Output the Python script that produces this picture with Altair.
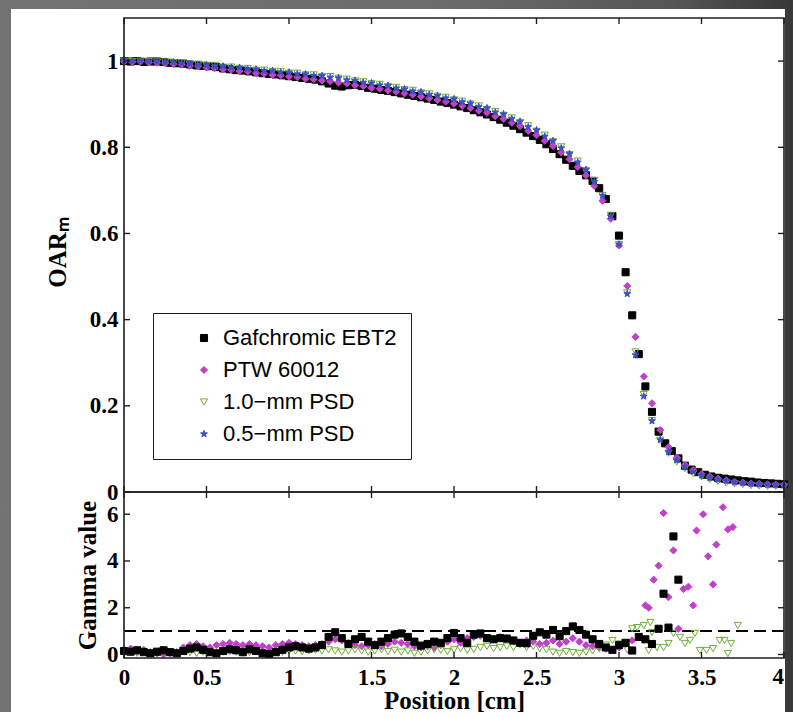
import altair as alt
import pandas as pd

# ---------------- data ----------------
SERIES = ["Gafchromic EBT2", "PTW 60012", "1.0\u2212mm PSD", "0.5\u2212mm PSD"]
STROKES = ["#000000", "#c13fc9", "#6fae37", "#3b4fc8"]
FILLS = ["#000000", "#c13fc9", "transparent", "#3b4fc8"]
STAR = ("M0,-1L0.235,-0.324L0.951,-0.309L0.38,0.124L0.588,0.809L0,0.4"
        "L-0.588,0.809L-0.38,0.124L-0.951,-0.309L-0.235,-0.324Z")
SHAPES = ["square", "diamond", "triangle-down", STAR]
SIZES = [50, 52, 46, 80]

X_TICKS = [0, 0.5, 1, 1.5, 2, 2.5, 3, 3.5, 4]
X_LAST = [4]
OAR_TICKS = [0, 0.2, 0.4, 0.6, 0.8, 1.0]
GAMMA_TICKS = [0, 2, 4, 6]
GAMMA_TOL = [1.0]

# positions with 0.05 cm spacing
POS_A = [0.00, 0.05, 0.10, 0.15, 0.20, 0.25, 0.30, 0.35, 0.40, 0.45,
         0.50, 0.55, 0.60, 0.65, 0.70, 0.75, 0.80, 0.85, 0.90, 0.95,
         1.00, 1.05, 1.10, 1.15, 1.20, 1.25, 1.30, 1.35, 1.40, 1.45,
         1.50, 1.55, 1.60, 1.65, 1.70, 1.75, 1.80, 1.85, 1.90, 1.95,
         2.00, 2.05, 2.10, 2.15, 2.20, 2.25, 2.30, 2.35, 2.40, 2.45,
         2.50, 2.55, 2.60, 2.65, 2.70, 2.75, 2.80, 2.85, 2.90, 2.95,
         3.00, 3.05, 3.10, 3.15, 3.20, 3.25, 3.30, 3.35, 3.40, 3.45,
         3.50, 3.55, 3.60, 3.65, 3.70, 3.75, 3.80, 3.85, 3.90, 3.95,
         4.00]

# positions with 0.04 cm spacing
POS_B = [0.00, 0.04, 0.08, 0.12, 0.16, 0.20, 0.24, 0.28, 0.32, 0.36, 0.40, 0.44, 0.48,
         0.52, 0.56, 0.60, 0.64, 0.68, 0.72, 0.76, 0.80, 0.84, 0.88, 0.92, 0.96,
         1.00, 1.04, 1.08, 1.12, 1.16, 1.20, 1.24, 1.28, 1.32, 1.36, 1.40, 1.44, 1.48,
         1.52, 1.56, 1.60, 1.64, 1.68, 1.72, 1.76, 1.80, 1.84, 1.88, 1.92, 1.96,
         2.00, 2.04, 2.08, 2.12, 2.16, 2.20, 2.24, 2.28, 2.32, 2.36, 2.40, 2.44, 2.48,
         2.52, 2.56, 2.60, 2.64, 2.68, 2.72, 2.76, 2.80, 2.84, 2.88, 2.92, 2.96,
         3.00, 3.04, 3.08, 3.12, 3.16, 3.20, 3.24, 3.28, 3.32, 3.36, 3.40, 3.44, 3.48,
         3.52, 3.56, 3.60, 3.64, 3.68, 3.72, 3.76, 3.80, 3.84, 3.88, 3.92, 3.96,
         4.00]

OAR_EBT2 = [1.000, 0.999, 1.000, 0.998, 0.999, 0.999, 0.998, 0.996, 0.995, 0.994, 0.992, 0.990, 0.989,
            0.988, 0.986, 0.983, 0.981, 0.979, 0.978, 0.976, 0.974, 0.972, 0.970, 0.969, 0.967,
            0.965, 0.963, 0.961, 0.959, 0.957, 0.953, 0.948, 0.943, 0.941, 0.944, 0.945, 0.942, 0.938,
            0.936, 0.933, 0.931, 0.928, 0.925, 0.922, 0.919, 0.916, 0.913, 0.910, 0.906, 0.903,
            0.899, 0.895, 0.891, 0.886, 0.881, 0.876, 0.870, 0.864, 0.857, 0.850, 0.842, 0.834, 0.826,
            0.817, 0.807, 0.796, 0.784, 0.771, 0.757, 0.745, 0.735, 0.722, 0.705, 0.680, 0.640,
            0.595, 0.510, 0.410, 0.320, 0.245, 0.186, 0.140, 0.113, 0.095, 0.078, 0.061, 0.052, 0.046,
            0.040, 0.036, 0.033, 0.031, 0.029, 0.027, 0.025, 0.024, 0.022, 0.021, 0.020, 0.019,
            0.018]

OAR_PTW = [0.999, 0.998, 0.999, 0.997, 0.996, 0.995, 0.993, 0.992, 0.989, 0.988,
           0.985, 0.984, 0.981, 0.980, 0.977, 0.976, 0.972, 0.971, 0.968, 0.967,
           0.964, 0.963, 0.959, 0.958, 0.955, 0.953, 0.950, 0.948, 0.944, 0.942,
           0.938, 0.936, 0.932, 0.929, 0.925, 0.922, 0.918, 0.914, 0.910, 0.906,
           0.901, 0.896, 0.891, 0.885, 0.880, 0.872, 0.866, 0.857, 0.849, 0.838,
           0.828, 0.815, 0.803, 0.788, 0.772, 0.754, 0.735, 0.710, 0.676, 0.634,
           0.572, 0.478, 0.360, 0.268, 0.206, 0.144, 0.104, 0.080, 0.063, 0.051,
           0.042, 0.036, 0.031, 0.027, 0.024, 0.022, 0.020, 0.019, 0.018, 0.017,
           0.017]

OAR_PSD10 = [1.000, 0.999, 1.000, 0.999, 0.998, 0.998, 0.996, 0.996, 0.993, 0.993,
             0.990, 0.990, 0.986, 0.986, 0.983, 0.983, 0.979, 0.979, 0.976, 0.976,
             0.972, 0.972, 0.968, 0.968, 0.964, 0.964, 0.960, 0.958, 0.954, 0.952,
             0.948, 0.946, 0.941, 0.939, 0.934, 0.932, 0.926, 0.924, 0.918, 0.916,
             0.910, 0.907, 0.900, 0.896, 0.888, 0.883, 0.874, 0.868, 0.857, 0.850,
             0.837, 0.828, 0.813, 0.801, 0.783, 0.768, 0.746, 0.723, 0.688, 0.642,
             0.574, 0.462, 0.325, 0.226, 0.166, 0.120, 0.090, 0.070, 0.054, 0.043,
             0.035, 0.029, 0.025, 0.021, 0.019, 0.017, 0.015, 0.014, 0.013, 0.013,
             0.012]

OAR_PSD05 = [1.002, 1.000, 1.001, 0.999, 0.999, 0.997, 0.997, 0.994, 0.994, 0.991,
             0.991, 0.988, 0.988, 0.985, 0.985, 0.981, 0.981, 0.977, 0.978, 0.974,
             0.974, 0.970, 0.970, 0.966, 0.966, 0.962, 0.961, 0.956, 0.955, 0.950,
             0.949, 0.944, 0.943, 0.937, 0.935, 0.930, 0.928, 0.922, 0.920, 0.914,
             0.912, 0.905, 0.902, 0.894, 0.891, 0.881, 0.877, 0.866, 0.860, 0.847,
             0.840, 0.825, 0.815, 0.798, 0.785, 0.765, 0.748, 0.720, 0.688, 0.640,
             0.575, 0.460, 0.318, 0.222, 0.165, 0.121, 0.093, 0.074, 0.058, 0.047,
             0.039, 0.033, 0.029, 0.026, 0.023, 0.021, 0.019, 0.018, 0.017, 0.016,
             0.016]

# gamma values
GAM_EBT2_POS = POS_B[:81] + [3.24, 3.27, 3.30, 3.33, 3.36]
GAM_EBT2 = [0.15, 0.12, 0.18, 0.10, 0.05, 0.12, 0.18, 0.10, 0.05, 0.15, 0.25, 0.30, 0.20,
            0.10, 0.05, 0.15, 0.22, 0.18, 0.10, 0.22, 0.15, 0.05, 0.02, 0.10, 0.20,
            0.30, 0.35, 0.30, 0.25, 0.30, 0.40, 0.75, 0.95, 0.70, 0.45, 0.65, 0.75, 0.55,
            0.40, 0.55, 0.70, 0.85, 0.90, 0.75, 0.55, 0.38, 0.45, 0.55, 0.50, 0.70,
            0.92, 0.70, 0.50, 0.85, 0.90, 0.70, 0.65, 0.70, 0.68, 0.60, 0.50, 0.48, 0.80,
            0.95, 0.85, 1.05, 0.78, 1.00, 1.20, 1.05, 0.85, 0.65, 0.45, 0.30, 0.20,
            0.40, 0.50, 0.17, 0.75, 0.65, 0.45,
            1.10, 2.60, 1.15, 5.05, 3.20]

GAM_PTW_POS = POS_B[:78] + [3.16, 3.18, 3.21, 3.24, 3.27, 3.30, 3.33, 3.36, 3.39, 3.42,
                            3.45, 3.47, 3.51, 3.54, 3.57, 3.59, 3.63, 3.66, 3.69]
GAM_PTW = [0.20, 0.25, 0.15, 0.20, 0.10, 0.05, 0.00, 0.05, 0.10, 0.30, 0.40, 0.45, 0.35,
           0.30, 0.40, 0.45, 0.50, 0.45, 0.40, 0.45, 0.40, 0.35, 0.30, 0.40, 0.45,
           0.50, 0.45, 0.40, 0.35, 0.40, 0.45, 0.55, 0.65, 0.60, 0.50, 0.40, 0.35, 0.40,
           0.45, 0.35, 0.45, 0.55, 0.50, 0.45, 0.35, 0.30, 0.35, 0.30, 0.40, 0.55,
           0.65, 0.50, 0.70, 0.75, 0.80, 0.70, 0.65, 0.75, 0.70, 0.55, 0.50, 0.60, 0.55,
           0.45, 0.50, 0.60, 0.45, 0.55, 0.70, 0.55, 0.40, 0.35, 0.30, 0.25, 0.20,
           0.30, 0.45, 0.60,
           2.10, 2.00, 3.20, 3.80, 6.05, 2.45, 4.45, 1.10, 2.80, 2.90,
           2.10, 5.30, 6.00, 4.20, 3.00, 4.70, 6.30, 5.35, 5.45]

GAM_PSD10_POS = POS_B[:76] + [3.05, 3.08, 3.11, 3.15, 3.18, 3.19, 3.20, 3.23, 3.27, 3.30,
                              3.33, 3.37, 3.40, 3.43, 3.46, 3.49, 3.53, 3.57, 3.61, 3.64,
                              3.66, 3.68, 3.72]
GAM_PSD10 = [0.05, 0.08, 0.05, 0.10, 0.08, 0.05, 0.10, 0.05, 0.08, 0.12, 0.08, 0.05, 0.10,
             0.08, 0.05, 0.10, 0.12, 0.10, 0.05, 0.08, 0.12, 0.05, 0.03, 0.08, 0.10,
             0.15, 0.15, 0.12, 0.15, 0.18, 0.15, 0.20, 0.15, 0.10, 0.15, 0.20, 0.15, 0.10,
             0.15, 0.20, 0.12, 0.18, 0.10, 0.15, 0.05, 0.10, 0.15, 0.20, 0.18, 0.12,
             0.20, 0.25, 0.18, 0.22, 0.30, 0.35, 0.25, 0.30, 0.35, 0.30, 0.40, 0.30, 0.35,
             0.25, 0.20, 0.10, 0.05, 0.12, 0.08, 0.05, 0.10, 0.15, 0.25, 0.40, 0.60,
             0.45,
             0.20, 1.10, 1.15, 1.24, 0.17, 1.37, 0.94, 0.30, 0.30, 0.47,
             0.90, 0.73, 0.47, 0.60, 0.90, 0.17, 0.17, 0.25, 0.60, 0.60,
             0.04, 0.47, 1.24]


def rows(name, xs, ys):
    return [{"series": name, "x": a, "y": b} for a, b in zip(xs, ys)]


# draw order: top panel black, green, magenta, blue; bottom magenta, green, black
df_top = pd.DataFrame(rows(SERIES[0], POS_B, OAR_EBT2) + rows(SERIES[2], POS_A, OAR_PSD10)
                      + rows(SERIES[1], POS_A, OAR_PTW) + rows(SERIES[3], POS_A, OAR_PSD05))
df_bot = pd.DataFrame(rows(SERIES[1], GAM_PTW_POS, GAM_PTW) + rows(SERIES[2], GAM_PSD10_POS, GAM_PSD10)
                      + rows(SERIES[0], GAM_EBT2_POS, GAM_EBT2))

# ---------------- style ----------------
W, H_TOP, H_BOT = 660, 474, 166
TICK = 6
FRAME = "#1e1e1e"
SERIF = "Liberation Serif"

LEG = alt.Legend(title=None, orient="none", legendX=29, legendY=295,
                 fillColor="white", strokeColor=FRAME, padding=14,
                 labelFont="Liberation Sans", labelFontSize=22, labelColor="black",
                 labelLimit=400, labelOffset=8, symbolOffset=26,
                 symbolStrokeWidth=1, rowPadding=10)

shape_enc = alt.Shape("series:N", scale=alt.Scale(domain=SERIES, range=SHAPES), legend=LEG)
stroke_enc = alt.Stroke("series:N", scale=alt.Scale(domain=SERIES, range=STROKES), legend=LEG)
fill_enc = alt.Fill("series:N", scale=alt.Scale(domain=SERIES, range=FILLS), legend=LEG)
size_enc = alt.Size("series:N", scale=alt.Scale(domain=SERIES, range=SIZES), legend=LEG)

x_scale = alt.Scale(domain=[0, 4], nice=False, zero=False)
x_top = alt.X("x:Q", scale=x_scale, axis=None)
x_bot = alt.X("x:Q", scale=x_scale,
              axis=alt.Axis(values=X_TICKS[:-1], format="~g", title="Position [cm]",
                            labelPadding=8, labelFlush=False, zindex=1,
                            titleBaseline="alphabetic", titleY=50, titleX=W / 2,
                            titleAlign="center"))
y_top = alt.Y("y:Q", scale=alt.Scale(domain=[0, 1.1], nice=False, zero=False),
              axis=alt.Axis(values=OAR_TICKS, format="~g", title="OAR\u2098", labelPadding=6,
                            titleX=-67, titleY=234, titleAngle=270, titleAlign="center",
                            titleBaseline="middle", zindex=1))
y_bot = alt.Y("y:Q", scale=alt.Scale(domain=[-0.15, 6.95], nice=False, zero=False),
              axis=alt.Axis(values=GAMMA_TICKS, format="~g", title="Gamma value", labelPadding=6,
                            titleX=-37, titleY=83, titleAngle=270, titleAlign="center",
                            titleBaseline="middle", zindex=1))

one = pd.DataFrame({"k": [0]})

# grey surround (darker towards the right) and white page behind the figure
surround = alt.Chart(one).mark_rect(
    color=alt.LinearGradient(
        gradient="linear", x1=0, x2=1, y1=0, y2=0,
        stops=[alt.GradientStop(color="#737373", offset=0),
               alt.GradientStop(color="#6c6c6c", offset=0.55),
               alt.GradientStop(color="#555555", offset=0.85),
               alt.GradientStop(color="#383838", offset=1)])
).encode(x=alt.value(-124), x2=alt.value(669), y=alt.value(-18), y2=alt.value(694))
page = alt.Chart(one).mark_rect(color="white").encode(
    x=alt.value(-113), x2=alt.value(661), y=alt.value(-9), y2=alt.value(694))


def panel(df, xe, ye, h, yticks):
    pts = alt.Chart(df).mark_point(strokeWidth=1, opacity=1, fillOpacity=1).encode(
        x=xe, y=ye, shape=shape_enc, stroke=stroke_enc, fill=fill_enc, size=size_enc)
    xt = pd.DataFrame({"x": X_TICKS})
    yt = pd.DataFrame({"y": yticks})
    t1 = alt.Chart(xt).mark_rule(color=FRAME, strokeWidth=1.4).encode(
        x=xe, y=alt.value(0), y2=alt.value(TICK))
    t2 = alt.Chart(xt).mark_rule(color=FRAME, strokeWidth=1.4).encode(
        x=xe, y=alt.value(h - TICK), y2=alt.value(h))
    t3 = alt.Chart(yt).mark_rule(color=FRAME, strokeWidth=1.4).encode(
        y=ye, x=alt.value(0), x2=alt.value(TICK))
    t4 = alt.Chart(yt).mark_rule(color=FRAME, strokeWidth=1.4).encode(
        y=ye, x=alt.value(W - TICK), x2=alt.value(W))
    frame = alt.Chart(one).mark_rect(filled=False, color=FRAME, strokeWidth=1.6).encode(
        x=alt.value(0), x2=alt.value(W), y=alt.value(0), y2=alt.value(h))
    return [pts, t1, t2, t3, t4, frame]


tol = alt.Chart(pd.DataFrame({"y": GAMMA_TOL})).mark_rule(
    color="black", strokeWidth=2, strokeDash=[12, 6]).encode(
    y=y_bot, x=alt.value(0), x2=alt.value(W))

# last x tick label kept inside the figure (right aligned at its tick)
last_lab = alt.Chart(pd.DataFrame({"x": X_LAST, "lab": ["4"]})).mark_text(
    align="right", baseline="top", font=SERIF, fontWeight="bold", fontSize=23,
    color="black").encode(x=x_bot, y=alt.value(H_BOT + 8), text="lab:N")

top = alt.layer(surround, page, *panel(df_top, x_top, y_top, H_TOP, OAR_TICKS)).properties(
    width=W, height=H_TOP)
bot = alt.layer(tol, *panel(df_bot, x_bot, y_bot, H_BOT, GAMMA_TICKS), last_lab).properties(
    width=W, height=H_BOT)

chart = alt.vconcat(top, bot, spacing=0, bounds="flush").properties(
    background="white",
    padding={"left": 0, "top": 0, "right": 0, "bottom": 0},
).configure_view(stroke=None).configure_axis(
    labelFont=SERIF, labelFontWeight="bold", labelFontSize=23, labelColor="black",
    titleFont=SERIF, titleFontWeight="bold", titleFontSize=25, titleColor="black",
    domain=False, ticks=False, grid=False, zindex=1)

chart.save("out.html", embed_options={"renderer": "svg", "actions": False})
